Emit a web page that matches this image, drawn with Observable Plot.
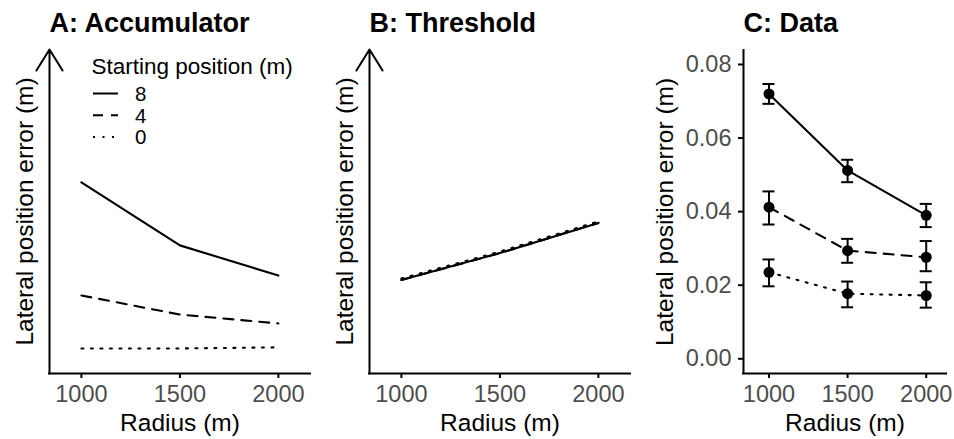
<!DOCTYPE html>
<html>
<head>
<meta charset="utf-8">
<script src="https://cdn.jsdelivr.net/npm/d3@7"></script>
<script src="https://cdn.jsdelivr.net/npm/@observablehq/plot@0.6"></script>
<style>
  body { margin: 0; background: #ffffff; }
  #wrap { position: relative; width: 954px; height: 439px; overflow: hidden; background: #ffffff; }
  #wrap svg { position: absolute; top: 0; }
</style>
</head>
<body>
<div id="wrap"></div>
<script>
// ---------- data ----------
const radius = [1000, 1500, 2000];
const startPositions = ["8", "4", "0"];
const xTicks = [1000, 1500, 2000];
const yTicksData = [0, 0.02, 0.04, 0.06, 0.08];

// Panel A: Accumulator model predictions
const accumulator8 = [0.0479, 0.0308, 0.0226];
const accumulator4 = [0.0172, 0.0120, 0.0096];
const accumulator0 = [0.0028, 0.0028, 0.0031];

// Panel B: Threshold model predictions
const threshold8 = [0.0214, 0.0287, 0.0369];
const threshold4 = [0.0214, 0.0287, 0.0369];
const threshold0 = [0.0218, 0.0291, 0.0373];

// Panel C: observed data (mean, lower, upper)
const data8 = [0.0720, 0.0512, 0.0390];
const data8Lo = [0.0693, 0.0480, 0.0358];
const data8Hi = [0.0747, 0.0541, 0.0421];
const data4 = [0.0412, 0.0294, 0.0276];
const data4Lo = [0.0365, 0.0261, 0.0238];
const data4Hi = [0.0455, 0.0326, 0.0320];
const data0 = [0.0235, 0.0177, 0.0172];
const data0Lo = [0.0197, 0.0140, 0.0139];
const data0Hi = [0.0270, 0.0210, 0.0208];

const titles = ["A: Accumulator", "B: Threshold", "C: Data"];
const xLabel = "Radius (m)";
const yLabel = "Lateral position error (m)";
const legendTitle = "Starting position (m)";

// ---------- styles ----------
const FONT = "'Liberation Sans', Arial, Helvetica, sans-serif";
const dash = {"8": null, "4": "10,8", "0": "2,7.5"};

function toRows(series, lo, hi) {
  const rows = [];
  startPositions.forEach((s) => {
    radius.forEach((r, i) => {
      rows.push({s, r, v: series[s][i], lo: lo ? lo[s][i] : null, hi: hi ? hi[s][i] : null});
    });
  });
  return rows;
}

const rowsA = toRows({"8": accumulator8, "4": accumulator4, "0": accumulator0});
const rowsB = toRows({"8": threshold8, "4": threshold4, "0": threshold0});
const rowsC = toRows({"8": data8, "4": data4, "0": data0},
                     {"8": data8Lo, "4": data4Lo, "0": data0Lo},
                     {"8": data8Hi, "4": data4Hi, "0": data0Hi});

function panel({left, title, rows, xDomain, yDomain, marginLeft, marginTop, isData, yLabelDx}) {
  const marks = [];
  startPositions.forEach((s) => {
    marks.push(Plot.line(rows.filter(d => d.s === s), {
      x: "r", y: "v", stroke: "black", strokeWidth: 2.1,
      strokeDasharray: dash[s]
    }));
  });
  if (isData) {
    marks.push(Plot.ruleX(rows, {x: "r", y1: "lo", y2: "hi", stroke: "black", strokeWidth: 2}));
    marks.push(Plot.ruleY(rows, {y: "lo", x1: "r", x2: "r", insetLeft: -6, insetRight: -6, stroke: "black", strokeWidth: 2}));
    marks.push(Plot.ruleY(rows, {y: "hi", x1: "r", x2: "r", insetLeft: -6, insetRight: -6, stroke: "black", strokeWidth: 2}));
    marks.push(Plot.dot(rows, {x: "r", y: "v", r: 5.5, fill: "black", stroke: null}));
    marks.push(Plot.ruleX([xDomain[0]], {stroke: "black", strokeWidth: 2, strokeLinecap: "square"}));
    marks.push(Plot.axisY(yTicksData, {
      tickSize: 5, tickPadding: 7, fontSize: 23.5, color: "#4d4d4d", stroke: "black",
      strokeWidth: 2, tickFormat: d3.format(".2f"), label: null
    }));
  } else {
    marks.push(Plot.arrow([{x: xDomain[0], y1: yDomain[0], y2: yDomain[1]}], {
      x1: "x", x2: "x", y1: "y1", y2: "y2", stroke: "black", strokeWidth: 2,
      headLength: 18.5, headAngle: 64
    }));
  }
  marks.push(Plot.ruleY([yDomain[0]], {stroke: "black", strokeWidth: 2, strokeLinecap: "square"}));
  marks.push(Plot.axisX(xTicks, {
    tickSize: 5, tickPadding: 7, fontSize: 23.5, color: "#4d4d4d", stroke: "black",
    strokeWidth: 2, label: null, tickFormat: d => String(d)
  }));
  marks.push(Plot.text([title], {
    frameAnchor: "top-left", textAnchor: "start", lineAnchor: "bottom",
    dy: 31.5 - marginTop, fontSize: 27, fontWeight: "bold", fill: "black"
  }));
  marks.push(Plot.text([xLabel], {
    frameAnchor: "bottom", textAnchor: "middle", lineAnchor: "top",
    dy: 40, fontSize: 24.5, fill: "black"
  }));
  marks.push(Plot.text([yLabel], {
    frameAnchor: "left", textAnchor: "middle", lineAnchor: "middle", rotate: -90,
    dx: yLabelDx, fontSize: 24.5, fill: "black"
  }));

  const svg = Plot.plot({
    width: 318, height: 439,
    marginLeft, marginRight: 8, marginTop, marginBottom: 66,
    x: {domain: xDomain, axis: null},
    y: {domain: yDomain, axis: null},
    style: {fontFamily: FONT, background: "transparent", overflow: "visible", color: "black"},
    marks
  });
  svg.style.left = left + "px";
  svg.style.maxWidth = "none";
  document.getElementById("wrap").appendChild(svg);
  return svg;
}

const svgA = panel({left: 0, title: titles[0], rows: rowsA, xDomain: [838, 2163], yDomain: [-0.004, 0.084],
  marginLeft: 49, marginTop: 49, isData: false, yLabelDx: -24.5});
panel({left: 320, title: titles[1], rows: rowsB, xDomain: [838, 2163], yDomain: [-0.004, 0.084],
  marginLeft: 49, marginTop: 49, isData: false, yLabelDx: -24.5});
panel({left: 636, title: titles[2], rows: rowsC, xDomain: [837.8, 2129], yDomain: [-0.004, 0.0838],
  marginLeft: 107, marginTop: 50, isData: true, yLabelDx: -78.5});

// ---------- legend (panel A) ----------
const lg = d3.select(svgA).append("g")
  .attr("font-family", FONT).attr("fill", "black")
  .attr("text-anchor", "start");
lg.append("text").attr("x", 91.5).attr("y", 73.5).attr("font-size", 22.5)
  .attr("text-anchor", "start").text(legendTitle);
startPositions.forEach((s, i) => {
  const yy = 93.5 + i * 21.7;
  lg.append("line").attr("x1", 93).attr("x2", 118).attr("y1", yy).attr("y2", yy)
    .attr("stroke", "black").attr("stroke-width", 2)
    .attr("stroke-dasharray", dash[s]);
  lg.append("text").attr("x", 135).attr("y", yy + 7.5).attr("font-size", 20.5)
    .attr("text-anchor", "start").text(s);
});
</script>
</body>
</html>
